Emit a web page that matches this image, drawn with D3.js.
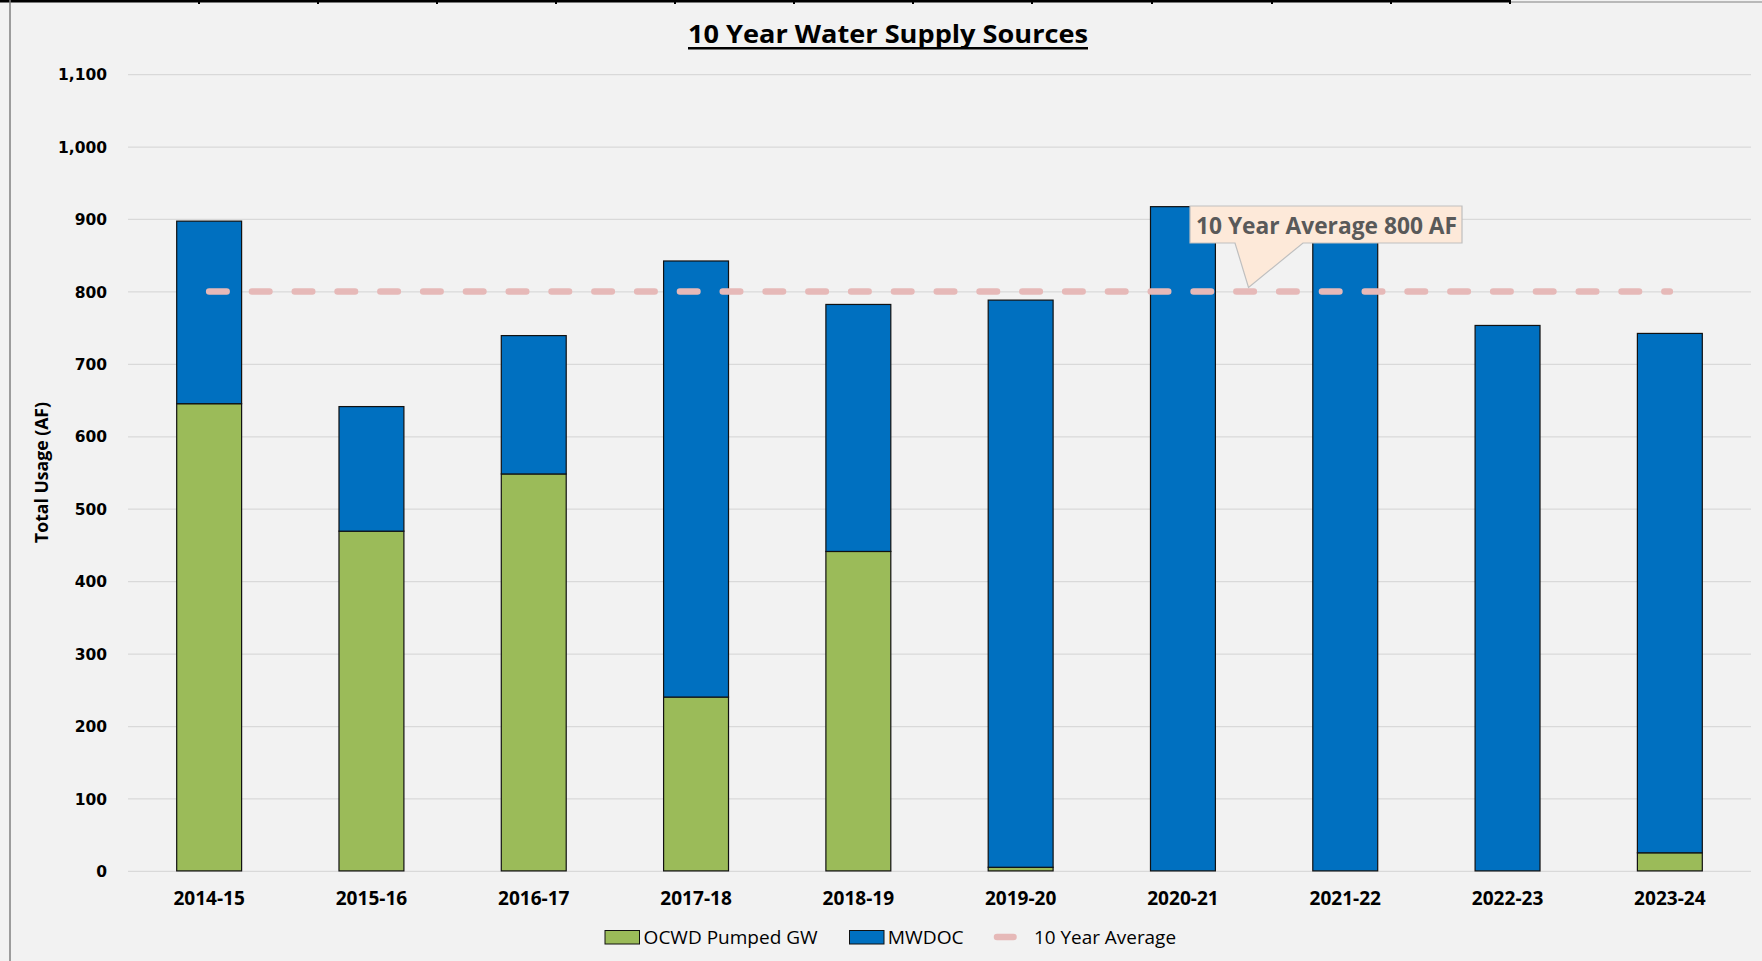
<!DOCTYPE html>
<html>
<head>
<meta charset="utf-8">
<script src="https://cdn.jsdelivr.net/npm/d3@7/dist/d3.min.js"></script>
<style>
  html, body { margin: 0; padding: 0; background: #F2F2F2; }
  svg { display: block; }
</style>
</head>
<body>
<svg id="chart" width="1762" height="961"></svg>
<script>
// ---- data ----
const categories = ["2014-15","2015-16","2016-17","2017-18","2018-19","2019-20","2020-21","2021-22","2022-23","2023-24"];
const ocwdPumpedGW = [645, 469, 548, 240, 441, 5, 0, 0, 0, 25];
const mwdoc        = [252, 172, 191, 602, 341, 783, 917, 897, 753, 717];
const tenYearAverage = 800;
const yTicks = [0,100,200,300,400,500,600,700,800,900,1000,1100];
const titleText = "10 Year Water Supply Sources";
const yAxisTitle = "Total Usage (AF)";
const calloutText = "10 Year Average 800 AF";
const legendLabels = ["OCWD Pumped GW", "MWDOC", "10 Year Average"];

// ---- setup ----
const W = 1762, H = 961;
const plot = {left: 128, right: 1751, top: 74.1, bottom: 870.9};
const colors = {green: "#9BBB59", blue: "#0070C0", avg: "#E6B9B8", grid: "#D9D9D9"};
const calibri = "'Open Sans', 'Noto Sans', sans-serif";

const svg = d3.select("#chart");
svg.append("rect").attr("width", W).attr("height", H).attr("fill", "#F2F2F2");

// sheet borders
svg.append("line").attr("x1", 0).attr("x2", 1511).attr("y1", 1).attr("y2", 1)
  .attr("stroke", "#000").attr("stroke-width", 3);
svg.append("line").attr("x1", 1511).attr("x2", W).attr("y1", 2).attr("y2", 2)
  .attr("stroke", "#808080").attr("stroke-width", 1);
[199, 318, 437, 556, 675, 794, 913, 1032, 1152, 1272, 1391, 1510].forEach(tx => {
  svg.append("line").attr("x1", tx).attr("x2", tx).attr("y1", 0).attr("y2", 4)
    .attr("stroke", "#000").attr("stroke-width", 2);
});
svg.append("line").attr("x1", 10).attr("x2", 10).attr("y1", 0).attr("y2", H)
  .attr("stroke", "#7F7F7F").attr("stroke-width", 1.5);

const x = d3.scaleBand().domain(categories).range([plot.left, plot.right]).paddingInner(0.6).paddingOuter(0.3);
const y = d3.scaleLinear().domain([0, 1100]).range([plot.bottom, plot.top]);

// fit text helper
function fit(sel, target) {
  const n = sel.node();
  const w = n.getComputedTextLength();
  if (w > 0) sel.attr("textLength", target).attr("lengthAdjust", "spacingAndGlyphs");
  return sel;
}

// gridlines
const yAxis = d3.axisLeft(y).tickValues(yTicks).tickSize(-(plot.right - plot.left)).tickFormat(d3.format(","));
const gy = svg.append("g").attr("transform", `translate(${plot.left},0)`).call(yAxis);
gy.select(".domain").remove();
gy.selectAll(".tick line").attr("stroke", colors.grid).attr("stroke-width", 1.3);
gy.selectAll(".tick text")
  .attr("x", -21).attr("dy", "0.36em")
  .attr("font-family", "'DejaVu Sans', Verdana, sans-serif")
  .attr("font-weight", "bold").attr("font-size", 15.5).attr("fill", "#000");

// stacked bars
const stackData = categories.map((c, i) => ({cat: c, ocwd: ocwdPumpedGW[i], mwdoc: mwdoc[i]}));
const series = d3.stack().keys(["ocwd", "mwdoc"])(stackData);
const fills = {ocwd: colors.green, mwdoc: colors.blue};
svg.append("g").selectAll("g").data(series).join("g")
  .attr("fill", d => fills[d.key])
  .selectAll("rect").data(d => d.filter(v => v[1] - v[0] > 0)).join("rect")
  .attr("x", d => x(d.data.cat))
  .attr("width", x.bandwidth())
  .attr("y", d => y(d[1]))
  .attr("height", d => y(d[0]) - y(d[1]))
  .attr("stroke", "#111").attr("stroke-width", 1.2);

// 10 year average dashed line
const avgLine = d3.line().x(d => x(d) + x.bandwidth() / 2).y(() => y(tenYearAverage));
svg.append("path").datum([categories[0], categories[categories.length - 1]])
  .attr("d", avgLine)
  .attr("fill", "none").attr("stroke", colors.avg).attr("stroke-width", 6.5)
  .attr("stroke-linecap", "round").attr("stroke-dasharray", "17.5 25.3");

// x labels
const xAxis = d3.axisBottom(x).tickSize(0);
const gx = svg.append("g").attr("transform", `translate(0,${plot.bottom})`).call(xAxis);
gx.select(".domain").remove();
gx.selectAll(".tick text")
  .attr("y", 34).attr("dy", 0)
  .attr("font-family", calibri).attr("font-weight", "bold").attr("font-size", 19)
  .attr("fill", "#000")
  .each(function() { fit(d3.select(this), 71.5); });

// title
const title = svg.append("text").attr("x", 888).attr("y", 42.5).attr("text-anchor", "middle")
  .attr("font-family", calibri).attr("font-weight", "bold").attr("font-size", 25.5)
  .attr("fill", "#000").text(titleText);
fit(title, 400);
svg.append("line").attr("x1", 688).attr("x2", 1088).attr("y1", 48.3).attr("y2", 48.3)
  .attr("stroke", "#000").attr("stroke-width", 2.5);

// y axis title
const yt = svg.append("text")
  .attr("transform", `translate(48,${(plot.top + plot.bottom) / 2 + 0}) rotate(-90)`)
  .attr("text-anchor", "middle")
  .attr("font-family", calibri).attr("font-weight", "bold").attr("font-size", 17.5)
  .attr("fill", "#000").text(yAxisTitle);
fit(yt, 141);

// callout
const tipX = x(categories[6]) + x.bandwidth() + (x(categories[7]) - x(categories[6]) - x.bandwidth()) * 0.34;
const tipY = y(tenYearAverage) - 4;
const box = {x0: 1190, x1: 1462, y0: 206, y1: 243};
svg.append("path")
  .attr("d", `M${box.x0},${box.y0} L${box.x1},${box.y0} L${box.x1},${box.y1} L1303,${box.y1} L${tipX},${tipY} L1235,${box.y1} L${box.x0},${box.y1} Z`)
  .attr("fill", "#FDE9D9").attr("stroke", "#BFBFBF").attr("stroke-width", 1.2);
const ct = svg.append("text").attr("x", 1196).attr("y", 234)
  .attr("font-family", calibri).attr("font-weight", "bold").attr("font-size", 23)
  .attr("fill", "#595959").text(calloutText);
fit(ct, 261);

// legend
const ly = 944;
const lg = svg.append("g");
lg.append("rect").attr("x", 605).attr("y", ly - 13.5).attr("width", 34.5).attr("height", 13.5)
  .attr("fill", colors.green).attr("stroke", "#111").attr("stroke-width", 1);
fit(lg.append("text").attr("x", 643.6).attr("y", ly)
  .attr("font-family", calibri).attr("font-size", 19).attr("fill", "#000").text(legendLabels[0]), 174);
lg.append("rect").attr("x", 849.5).attr("y", ly - 13.5).attr("width", 34.5).attr("height", 13.5)
  .attr("fill", colors.blue).attr("stroke", "#111").attr("stroke-width", 1);
fit(lg.append("text").attr("x", 887.7).attr("y", ly)
  .attr("font-family", calibri).attr("font-size", 19).attr("fill", "#000").text(legendLabels[1]), 76);
lg.append("line").attr("x1", 997).attr("x2", 1013.5).attr("y1", ly - 7).attr("y2", ly - 7)
  .attr("stroke", colors.avg).attr("stroke-width", 6.5).attr("stroke-linecap", "round");
fit(lg.append("text").attr("x", 1034).attr("y", ly)
  .attr("font-family", calibri).attr("font-size", 19).attr("fill", "#000").text(legendLabels[2]), 142);
</script>
</body>
</html>
